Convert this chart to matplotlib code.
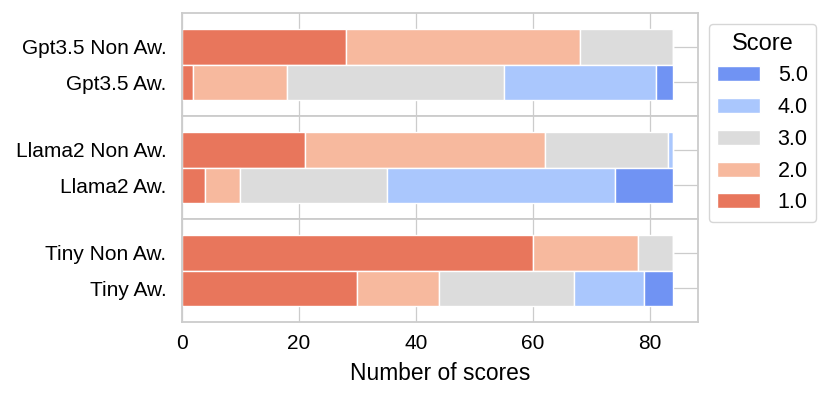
import matplotlib
matplotlib.use("Agg")
import matplotlib.pyplot as plt
import seaborn as sns

sns.set_theme(style="whitegrid")
plt.rcParams['font.family'] = ['Liberation Sans', 'DejaVu Sans']
plt.rcParams['text.color'] = 'black'
plt.rcParams['axes.labelcolor'] = 'black'
plt.rcParams['xtick.color'] = 'black'
plt.rcParams['ytick.color'] = 'black'

# model groups, top to bottom
groups = ["Gpt3.5", "Llama2", "Tiny"]
scores = ["1.0", "2.0", "3.0", "4.0", "5.0"]
colors = ["#e8765c", "#f7b99e", "#dcdcdc", "#aac7fd", "#7093f3"]

# counts per score (1..5) for the "Non Aw." and "Aw." variants
non_aware = {
    "Gpt3.5": [28, 40, 16, 0, 0],
    "Llama2": [21, 41, 21, 1, 0],
    "Tiny":   [60, 18, 6, 0, 0],
}
aware = {
    "Gpt3.5": [2, 16, 37, 26, 3],
    "Llama2": [4, 6, 25, 39, 10],
    "Tiny":   [30, 14, 23, 12, 5],
}

fig, axes = plt.subplots(3, 1, sharex=True, figsize=(8.3, 3.99), dpi=100)
fig.subplots_adjust(left=0.219, right=0.841, top=0.967, bottom=0.193, hspace=0)

for ax, name in zip(axes, groups):
    rows = [non_aware[name], aware[name]]
    labels = [f"{name} Non Aw.", f"{name} Aw."]
    for pos, vals in enumerate(rows):
        left = 0
        for i, v in enumerate(vals):
            ax.barh(pos, v, left=left, height=1.0, color=colors[i],
                    edgecolor="white", linewidth=1.0,
                    label=scores[i] if pos == 0 else None, zorder=2)
            left += v
    ax.set_yticks([0, 1])
    ax.set_yticklabels(labels, fontsize=15)
    ax.set_ylim(1.95, -0.95)
    ax.set_xlim(0, 88.2)
    ax.grid(True, color="#cccccc", linewidth=0.9, zorder=0)
    ax.set_axisbelow(True)
    for sp in ax.spines.values():
        sp.set_color("#cccccc")
        sp.set_linewidth(1.3)
    ax.tick_params(axis="y", length=0, labelsize=15, pad=11)
    ax.tick_params(axis="x", length=0, labelsize=15, pad=9)

axes[-1].set_xticks([0, 20, 40, 60, 80])
axes[-1].set_xlabel("Number of scores", fontsize=16.4, labelpad=6)

handles, labs = axes[0].get_legend_handles_labels()
axes[0].legend(handles[::-1], labs[::-1], title="Score", loc="upper left",
               bbox_to_anchor=(1.0, 1.0), fontsize=15.5, title_fontsize=17,
               frameon=True, edgecolor="#cccccc")

fig.savefig("out.png", dpi=100)
